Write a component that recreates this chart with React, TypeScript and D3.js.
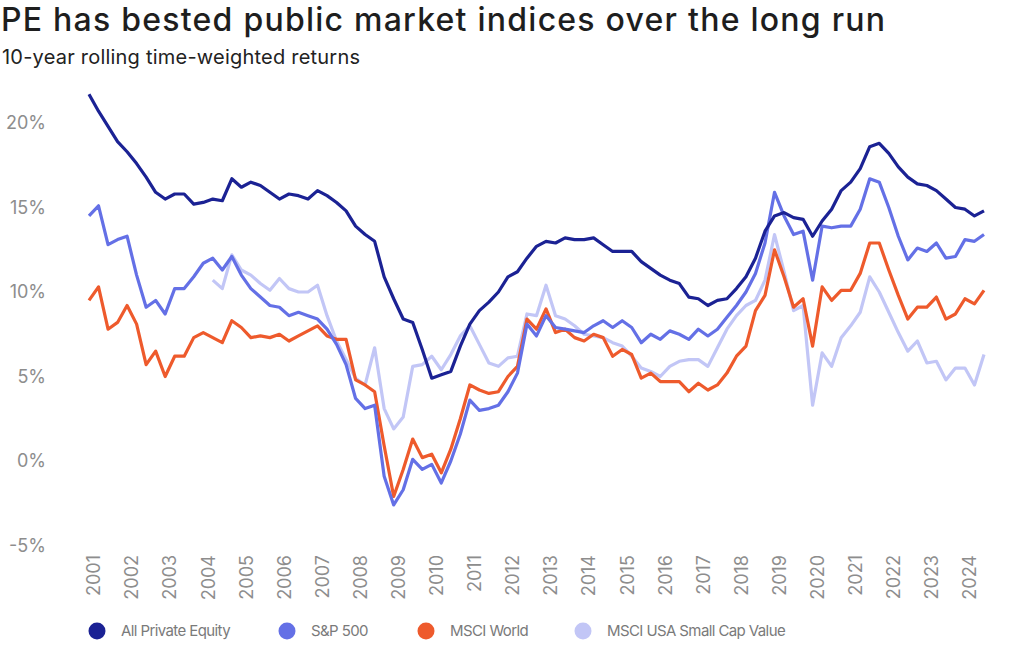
import { useEffect, useRef } from "react";
import * as d3 from "d3";

// quarterly 10-year rolling returns (%), Q1 2001 .. Q3 2024
const years = [
  2001, 2002, 2003, 2004, 2005, 2006, 2007, 2008, 2009, 2010, 2011, 2012,
  2013, 2014, 2015, 2016, 2017, 2018, 2019, 2020, 2021, 2022, 2023, 2024,
];

const privateEquity = [
  21.7, 20.7, 19.8, 18.9, 18.3, 17.6, 16.8, 15.9, 15.5, 15.8,
  15.8, 15.2, 15.3, 15.5, 15.4, 16.7, 16.2, 16.5, 16.3, 15.9,
  15.5, 15.8, 15.7, 15.5, 16.0, 15.7, 15.3, 14.8, 13.9, 13.4,
  13.0, 10.9, 9.6, 8.4, 8.2, 6.6, 4.9, 5.1, 5.3, 6.8,
  8.1, 8.9, 9.4, 10.0, 10.9, 11.2, 12.0, 12.7, 13.0, 12.9,
  13.2, 13.1, 13.1, 13.2, 12.8, 12.4, 12.4, 12.4, 11.8, 11.4,
  11.0, 10.7, 10.5, 9.7, 9.6, 9.2, 9.5, 9.6, 10.2, 10.9,
  12.0, 13.6, 14.5, 14.7, 14.4, 14.3, 13.3, 14.2, 14.9, 16.0,
  16.5, 17.3, 18.6, 18.8, 18.2, 17.4, 16.8, 16.4, 16.3, 16.0,
  15.5, 15.0, 14.9, 14.5, 14.8,
];

const sp500 = [
  14.5, 15.1, 12.8, 13.1, 13.3, 11.0, 9.1, 9.5, 8.7, 10.2,
  10.2, 10.9, 11.7, 12.0, 11.3, 12.1, 11.0, 10.2, 9.7, 9.2,
  9.1, 8.6, 8.8, 8.6, 8.4, 7.8, 6.9, 5.7, 3.7, 3.1,
  3.3, -0.9, -2.6, -1.7, 0.1, -0.5, -0.2, -1.3, 0.0, 1.6,
  3.6, 3.0, 3.1, 3.3, 4.1, 5.2, 8.1, 7.4, 8.6, 7.9,
  7.8, 7.7, 7.6, 8.0, 8.3, 7.9, 8.3, 7.9, 7.0, 7.5,
  7.2, 7.7, 7.5, 7.2, 7.8, 7.4, 7.8, 8.5, 9.2, 10.0,
  11.1, 12.9, 15.9, 14.5, 13.4, 13.6, 10.7, 13.9, 13.8, 13.9,
  13.9, 14.9, 16.7, 16.5, 15.0, 13.3, 11.9, 12.6, 12.4, 12.9,
  12.0, 12.1, 13.1, 13.0, 13.4,
];

const msciWorld = [
  9.5, 10.3, 7.8, 8.2, 9.2, 8.1, 5.7, 6.5, 5.0, 6.2,
  6.2, 7.3, 7.6, 7.3, 7.0, 8.3, 7.9, 7.3, 7.4, 7.3,
  7.5, 7.1, 7.4, 7.7, 8.0, 7.4, 7.2, 7.2, 4.8, 4.5,
  4.1, 0.9, -2.1, -0.5, 1.3, 0.2, 0.4, -0.7, 0.7, 2.5,
  4.5, 4.2, 4.0, 4.1, 5.0, 5.6, 8.4, 7.8, 9.0, 7.6,
  7.8, 7.3, 7.1, 7.5, 7.3, 6.2, 6.6, 6.3, 4.9, 5.2,
  4.7, 4.7, 4.7, 4.1, 4.6, 4.2, 4.5, 5.2, 6.2, 6.8,
  8.9, 9.8, 12.5, 10.9, 9.1, 9.6, 6.8, 10.3, 9.5, 10.1,
  10.1, 11.1, 12.9, 12.9, 11.3, 9.8, 8.4, 9.1, 9.1, 9.7,
  8.4, 8.7, 9.6, 9.3, 10.1,
];

const smallCapValue: (number | null)[] = [
  null, null, null, null, null, null, null, null, null, null,
  null, null, null, 10.7, 10.2, 12.2, 11.3, 11.0, 10.5, 10.1,
  10.8, 10.2, 10.0, 10.0, 10.4, 8.6, 7.1, 6.0, 4.9, 4.5,
  6.7, 3.1, 1.9, 2.6, 5.6, 5.7, 6.2, 5.4, 6.3, 7.4,
  8.0, 6.9, 5.8, 5.6, 6.1, 6.2, 8.7, 8.6, 10.4, 8.6,
  8.4, 8.0, 7.5, 7.4, 7.3, 7.0, 6.8, 6.2, 5.5, 5.3,
  5.0, 5.6, 5.9, 6.0, 6.0, 5.6, 6.7, 7.8, 8.6, 9.2,
  9.5, 10.7, 13.4, 11.2, 8.9, 9.2, 3.3, 6.4, 5.6, 7.3,
  8.0, 8.8, 10.9, 10.0, 8.8, 7.6, 6.5, 7.1, 5.8, 5.9,
  4.8, 5.5, 5.5, 4.5, 6.3,
];

const yTicks = [-5, 0, 5, 10, 15, 20];

const seriesNames = [
  "All Private Equity",
  "S&P 500",
  "MSCI World",
  "MSCI USA Small Cap Value",
];
const seriesColors = ["#1b2294", "#6470e6", "#ee5a2c", "#c2c6f6"];

const FONT = "Inter, 'Noto Sans', sans-serif";

export default function App() {
  const svgRef = useRef<SVGSVGElement>(null);
  const width = 1024;
  const height = 663;

  useEffect(() => {
    if (!svgRef.current) return;
    const svg = d3.select(svgRef.current);
    svg.selectAll("*").remove();

    const series = [privateEquity, sp500, msciWorld, smallCapValue];

    const xScale = d3
      .scaleLinear()
      .domain([0, privateEquity.length - 1])
      .range([89, 984]);
    const yScale = d3.scaleLinear().domain([0, 20]).range([461, 123]);

    // Title
    svg
      .append("text")
      .attr("x", 1)
      .attr("y", 31)
      .attr("font-family", FONT)
      .attr("font-size", "32px")
      .attr("font-weight", 500)
      .attr("textLength", 884)
      .attr("lengthAdjust", "spacing")
      .attr("fill", "#1e1e1e")
      .text("PE has bested public market indices over the long run");

    svg
      .append("text")
      .attr("x", 2)
      .attr("y", 64)
      .attr("font-family", FONT)
      .attr("font-size", "20px")
      .attr("textLength", 358)
      .attr("lengthAdjust", "spacing")
      .attr("fill", "#222")
      .text("10-year rolling time-weighted returns");

    // Y tick labels
    yTicks.forEach((t) => {
      svg
        .append("text")
        .attr("x", 46)
        .attr("y", yScale(t))
        .attr("dy", "0.35em")
        .attr("text-anchor", "end")
        .attr("font-family", FONT)
        .attr("font-size", "18px")
        .attr("fill", "#8d8d8d")
        .text(`${t}%`);
    });

    // X tick labels (rotated)
    years.forEach((yr, i) => {
      const x = xScale(i * 4) + 5;
      svg
        .append("text")
        .attr("transform", `translate(${x},555) rotate(-90)`)
        .attr("dy", "0.35em")
        .attr("text-anchor", "end")
        .attr("font-family", FONT)
        .attr("font-size", "18px")
        .attr("fill", "#8d8d8d")
        .text(yr);
    });

    // Lines, light series drawn first
    const line = d3
      .line<number | null>()
      .defined((d) => d != null)
      .x((_, i) => xScale(i))
      .y((d) => yScale(d as number));

    [3, 2, 1, 0].forEach((k) => {
      svg
        .append("path")
        .datum(series[k])
        .attr("fill", "none")
        .attr("stroke", seriesColors[k])
        .attr("stroke-width", 3.2)
        .attr("stroke-linejoin", "round")
        .attr("d", line);
    });

    // Legend
    const legendX = [97, 287, 426, 583];
    seriesNames.forEach((name, k) => {
      svg
        .append("circle")
        .attr("cx", legendX[k])
        .attr("cy", 631)
        .attr("r", 8.5)
        .attr("fill", seriesColors[k]);
      svg
        .append("text")
        .attr("x", legendX[k] + 24)
        .attr("y", 631)
        .attr("dy", "0.35em")
        .attr("font-family", FONT)
        .attr("font-size", "15px")
        .attr("letter-spacing", "-0.6px")
        .attr("fill", "#7a7a7a")
        .text(name);
    });
  }, []);

  return (
    <svg
      ref={svgRef}
      width={width}
      height={height}
      style={{ position: "absolute", left: 0, top: 0, background: "#fff" }}
    />
  );
}
